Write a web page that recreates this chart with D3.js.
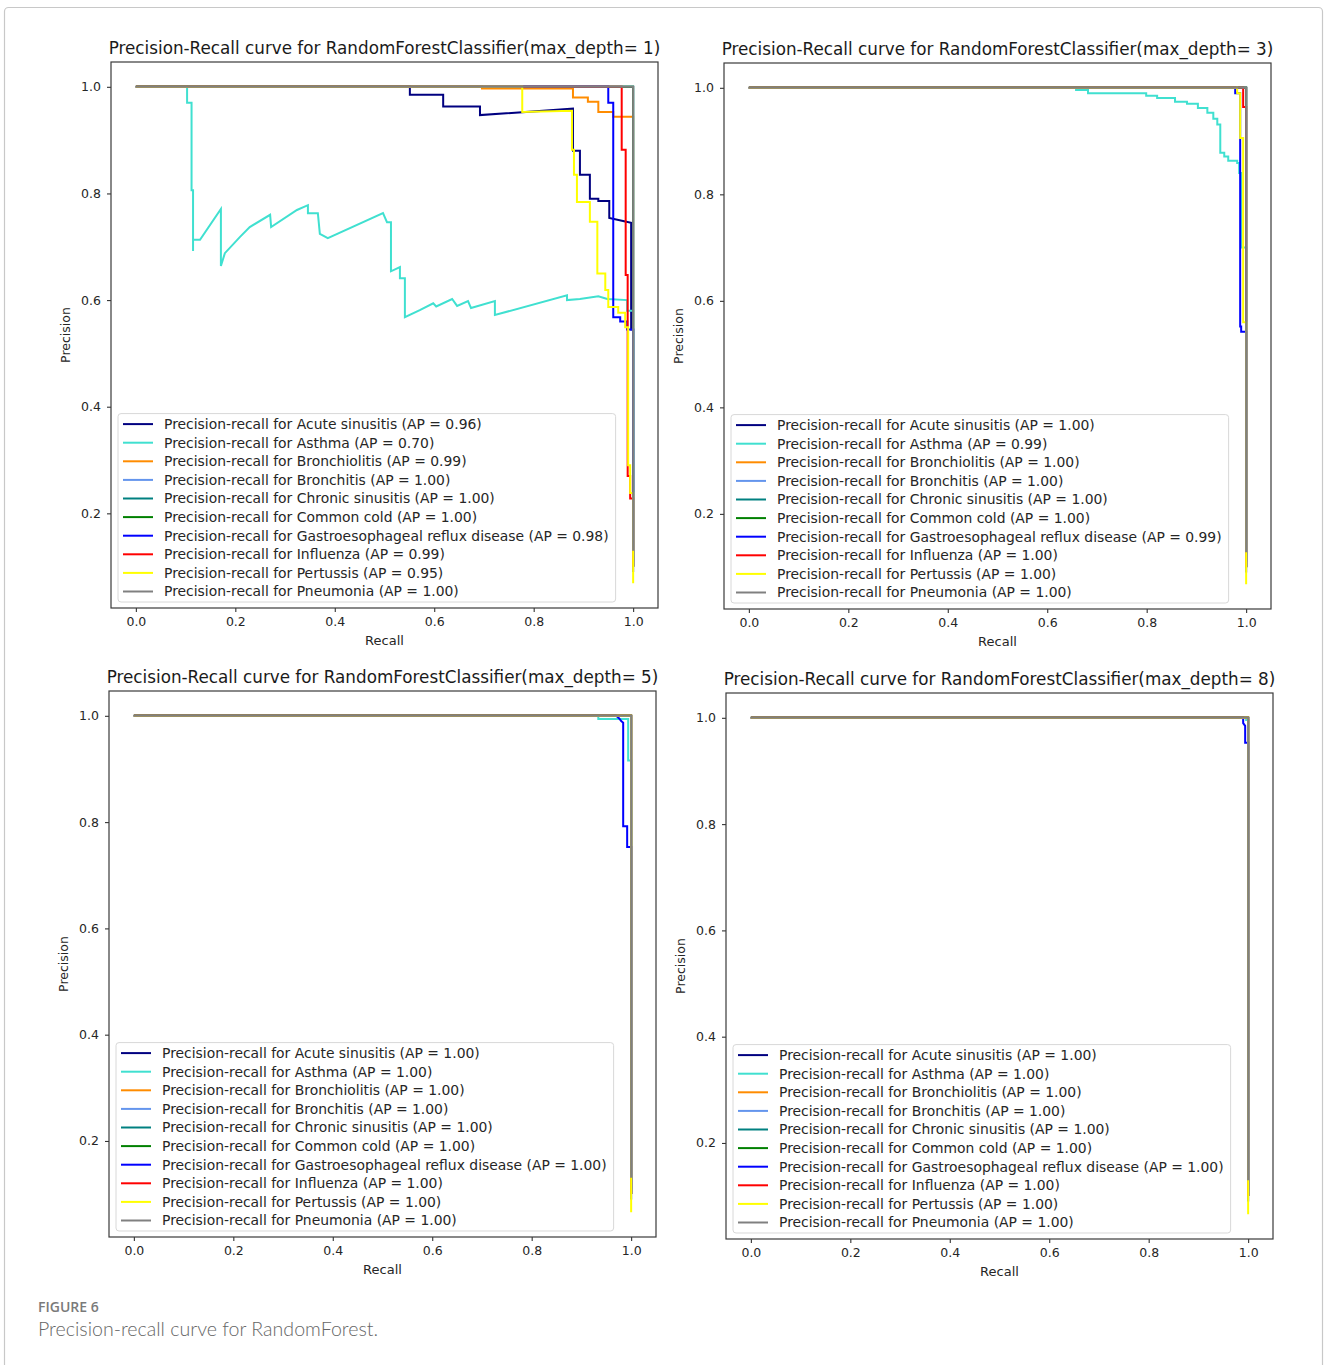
<!DOCTYPE html>
<html>
<head>
<meta charset="utf-8">
<script src="https://cdn.jsdelivr.net/npm/d3@7"></script>
<style>
  body { margin: 0; background: #fff; }
  svg { display: block; }
</style>
</head>
<body>
<div id="chart"></div>
<script>
// classes and line colours, in legend / drawing order
const classes = ["Acute sinusitis", "Asthma", "Bronchiolitis", "Bronchitis", "Chronic sinusitis",
  "Common cold", "Gastroesophageal reflux disease", "Influenza", "Pertussis", "Pneumonia"];
const lineColors = ["navy", "turquoise", "darkorange", "cornflowerblue", "teal",
  "green", "blue", "red", "yellow", "gray"];

const depths = [1, 3, 5, 8];

// average precision per class
const apDepth1 = [0.96, 0.70, 0.99, 1.00, 1.00, 1.00, 0.98, 0.99, 0.95, 1.00];
const apDepth3 = [1.00, 0.99, 1.00, 1.00, 1.00, 1.00, 0.99, 1.00, 1.00, 1.00];
const apDepth5 = [1.00, 1.00, 1.00, 1.00, 1.00, 1.00, 1.00, 1.00, 1.00, 1.00];
const apDepth8 = [1.00, 1.00, 1.00, 1.00, 1.00, 1.00, 1.00, 1.00, 1.00, 1.00];

// [recall, precision] vertices, one list per class
const prDepth1 = [
  [[0,1],[0.551,1],[0.551,0.985],[0.618,0.985],[0.618,0.963],[0.692,0.963],[0.692,0.947],[0.879,0.959],
   [0.879,0.88],[0.893,0.88],[0.893,0.835],[0.913,0.835],[0.913,0.79],[0.93,0.79],[0.93,0.786],[0.952,0.786],
   [0.952,0.754],[0.982,0.748],[0.996,0.745],[0.996,0.545],[1,0.545],[1,0.1]],
  [[0,1],[0.103,1],[0.103,0.97],[0.112,0.97],[0.112,0.806],[0.115,0.806],[0.115,0.692],[0.115,0.713],
   [0.129,0.713],[0.171,0.771],[0.171,0.664],[0.179,0.688],[0.209,0.718],[0.229,0.737],[0.27,0.76],
   [0.272,0.737],[0.324,0.769],[0.346,0.778],[0.346,0.763],[0.366,0.763],[0.37,0.724],[0.386,0.716],
   [0.497,0.763],[0.505,0.746],[0.513,0.746],[0.513,0.654],[0.531,0.662],[0.531,0.641],[0.541,0.641],
   [0.541,0.568],[0.571,0.581],[0.598,0.594],[0.604,0.588],[0.636,0.602],[0.646,0.589],[0.668,0.598],
   [0.674,0.585],[0.722,0.598],[0.722,0.572],[0.867,0.609],[0.867,0.6],[0.893,0.602],[0.93,0.607],
   [0.948,0.602],[0.988,0.6],[0.988,0.58],[1,0.58],[1,0.1]],
  [[0,1],[0.696,1],[0.696,0.997],[0.879,0.997],[0.879,0.98],[0.909,0.98],[0.909,0.972],[0.93,0.972],
   [0.93,0.953],[0.96,0.953],[0.96,0.944],[1,0.944],[1,0.1]],
  [[0,1],[1,1],[1,0.11]],
  [[0,1],[1,1],[1,0.1]],
  [[0,1],[1,1],[1,0.1]],
  [[0,1],[0.95,1],[0.95,0.97],[0.96,0.97],[0.96,0.568],[0.974,0.568],[0.974,0.56],[0.988,0.56],
   [0.988,0.545],[1,0.545],[1,0.09]],
  [[0,1],[0.977,1],[0.977,0.882],[0.985,0.882],[0.985,0.647],[0.989,0.647],[0.989,0.27],[0.994,0.27],
   [0.994,0.228],[1,0.228],[1,0.1]],
  [[0,1],[0.777,1],[0.777,0.953],[0.877,0.955],[0.877,0.882],[0.881,0.882],[0.881,0.835],[0.887,0.835],
   [0.887,0.784],[0.913,0.784],[0.913,0.747],[0.928,0.747],[0.928,0.65],[0.944,0.65],[0.944,0.619],
   [0.95,0.619],[0.95,0.587],[0.97,0.587],[0.97,0.576],[0.984,0.576],[0.984,0.549],[0.99,0.549],
   [0.99,0.29],[0.994,0.29],[0.994,0.238],[1,0.238],[1,0.069]],
  [[0,1],[1,1],[1,0.13]]
];

const prDepth3 = [
  [[0,1],[1,1],[1,0.1]],
  [[0,1],[0.658,1],[0.658,0.996],[0.682,0.996],[0.682,0.99],[0.799,0.99],[0.799,0.985],[0.821,0.985],
   [0.821,0.981],[0.857,0.981],[0.857,0.974],[0.881,0.974],[0.881,0.97],[0.903,0.97],[0.903,0.962],
   [0.922,0.962],[0.922,0.953],[0.934,0.953],[0.934,0.942],[0.942,0.942],[0.942,0.931],[0.948,0.931],
   [0.948,0.878],[0.956,0.878],[0.956,0.871],[0.964,0.871],[0.964,0.863],[0.982,0.863],[0.982,0.859],
   [0.986,0.859],[0.986,0.84],[0.99,0.84],[0.99,0.7],[1,0.7],[1,0.1]],
  [[0,1],[1,1],[1,0.1]],
  [[0,1],[1,1],[1,0.11]],
  [[0,1],[1,1],[1,0.1]],
  [[0,1],[1,1],[1,0.1]],
  [[0,1],[0.978,1],[0.978,0.99],[0.988,0.99],[0.988,0.552],[0.99,0.552],[0.99,0.542],[1,0.542],[1,0.09]],
  [[0,1],[0.994,1],[0.994,0.964],[1,0.964],[1,0.1]],
  [[0,1],[0.982,1],[0.982,0.99],[0.988,0.99],[0.988,0.906],[0.994,0.906],[0.994,0.56],[1,0.56],[1,0.068]],
  [[0,1],[1,1],[1,0.128]]
];

const prDepth5 = [
  [[0,1],[1,1],[1,0.1]],
  [[0,1],[0.934,1],[0.934,0.994],[0.994,0.994],[0.994,0.916],[1,0.916],[1,0.1]],
  [[0,1],[1,1],[1,0.1]],
  [[0,1],[1,1],[1,0.11]],
  [[0,1],[1,1],[1,0.1]],
  [[0,1],[1,1],[1,0.1]],
  [[0,1],[0.97,1],[0.976,0.995],[0.98,0.99],[0.984,0.987],[0.984,0.792],[0.992,0.792],[0.992,0.753],
   [1,0.753],[1,0.09]],
  [[0,1],[1,1],[1,0.1]],
  [[0,1],[1,1],[1,0.066]],
  [[0,1],[1,1],[1,0.131]]
];

const prDepth8 = [
  [[0,1],[1,1],[1,0.1]],
  [[0,1],[0.996,1],[0.996,0.996],[1,0.996],[1,0.1]],
  [[0,1],[1,1],[1,0.1]],
  [[0,1],[1,1],[1,0.11]],
  [[0,1],[1,1],[1,0.1]],
  [[0,1],[1,1],[1,0.1]],
  [[0,1],[0.99,1],[0.99,0.99],[0.994,0.985],[0.994,0.953],[1,0.953],[1,0.09]],
  [[0,1],[1,1],[1,0.1]],
  [[0,1],[1,1],[1,0.066]],
  [[0,1],[1,1],[1,0.13]]
];

const xTicks = [0, 0.2, 0.4, 0.6, 0.8, 1.0];
const yTicks = [0.2, 0.4, 0.6, 0.8, 1.0];

// page setup
const width = 1328;
const height = 1365;
const plotW = 547;
const plotH = 546;
const font = "'DejaVu Sans', sans-serif";

const svg = d3.select("#chart").append("svg")
  .attr("width", width)
  .attr("height", height);

// outer figure frame
svg.append("rect")
  .attr("x", 4.5).attr("y", 7.5)
  .attr("width", 1318).attr("height", 1400)
  .attr("rx", 4)
  .attr("fill", "none")
  .attr("stroke", "#c8c8c8")
  .attr("stroke-width", 1.2);

const panels = [
  { left: 111, top: 62, pr: prDepth1, ap: apDepth1, depth: depths[0] },
  { left: 724, top: 63, pr: prDepth3, ap: apDepth3, depth: depths[1] },
  { left: 109, top: 691, pr: prDepth5, ap: apDepth5, depth: depths[2] },
  { left: 726, top: 693, pr: prDepth8, ap: apDepth8, depth: depths[3] }
];

panels.forEach(function(p) { drawPanel(p); });

function drawPanel(p) {
  const g = svg.append("g").attr("transform", "translate(" + p.left + "," + p.top + ")");

  // matplotlib style 5% margins
  const all = p.pr.flat();
  const yMin = d3.min(all, d => d[1]);
  const yMax = d3.max(all, d => d[1]);
  const ym = (yMax - yMin) * 0.05;

  const x = d3.scaleLinear().domain([-0.05, 1.05]).range([0, plotW]);
  const y = d3.scaleLinear().domain([yMin - ym, yMax + ym]).range([plotH, 0]);

  // curves
  const line = d3.line()
    .x(d => x(d[0]))
    .y(d => y(d[1]));

  const clipId = "clip" + p.depth;
  g.append("clipPath").attr("id", clipId)
    .append("rect").attr("width", plotW).attr("height", plotH);

  g.append("g")
    .attr("clip-path", "url(#" + clipId + ")")
    .selectAll("path")
    .data(p.pr)
    .enter().append("path")
      .attr("d", line)
      .attr("fill", "none")
      .attr("stroke", (d, i) => lineColors[i])
      .attr("stroke-width", 2)
      .attr("stroke-linejoin", "miter");

  // axes
  const xAxis = g.append("g")
    .attr("transform", "translate(0," + plotH + ")")
    .call(d3.axisBottom(x).tickValues(xTicks).tickFormat(d3.format(".1f"))
      .tickSize(4).tickPadding(5).tickSizeOuter(0));
  const yAxis = g.append("g")
    .call(d3.axisLeft(y).tickValues(yTicks).tickFormat(d3.format(".1f"))
      .tickSize(4).tickPadding(6).tickSizeOuter(0));
  [xAxis, yAxis].forEach(function(a) {
    a.select(".domain").remove();
    a.selectAll(".tick line").attr("stroke", "#333").attr("stroke-width", 1.1);
    a.selectAll(".tick text")
      .attr("font-family", font)
      .attr("font-size", "12.5px")
      .attr("fill", "#262626");
  });

  // frame
  g.append("rect")
    .attr("width", plotW).attr("height", plotH)
    .attr("fill", "none")
    .attr("stroke", "#3a3a3a")
    .attr("stroke-width", 1.2);

  // title and axis labels
  g.append("text")
    .attr("x", plotW / 2).attr("y", -8)
    .attr("text-anchor", "middle")
    .attr("font-family", font)
    .attr("font-size", "16.8px")
    .attr("fill", "#1a1a1a")
    .text("Precision-Recall curve for RandomForestClassifier(max_depth= " + p.depth + ")");

  g.append("text")
    .attr("x", plotW / 2).attr("y", plotH + 37)
    .attr("text-anchor", "middle")
    .attr("font-family", font)
    .attr("font-size", "13px")
    .attr("fill", "#262626")
    .text("Recall");

  g.append("text")
    .attr("transform", "translate(-45," + (plotH / 2) + ") rotate(-90)")
    .attr("text-anchor", "middle")
    .attr("dy", "0.35em")
    .attr("font-family", font)
    .attr("font-size", "12.5px")
    .attr("fill", "#262626")
    .text("Precision");

  // legend, lower left
  const rowH = 18.6;
  const legH = 10 + (classes.length - 1) * rowH + 11;
  const leg = g.append("g")
    .attr("transform", "translate(7," + (plotH - 6 - legH) + ")");
  const legBox = leg.append("rect")
    .attr("height", legH)
    .attr("rx", 3)
    .attr("fill", "#fff")
    .attr("fill-opacity", 0.85)
    .attr("stroke", "#d8d8d8")
    .attr("stroke-width", 1);

  const rows = leg.selectAll("g.row")
    .data(classes)
    .enter().append("g")
      .attr("class", "row")
      .attr("transform", (d, i) => "translate(0," + (10.5 + i * rowH) + ")");
  rows.append("line")
    .attr("x1", 5).attr("x2", 35)
    .attr("stroke", (d, i) => lineColors[i])
    .attr("stroke-width", 2);
  rows.append("text")
    .attr("x", 46)
    .attr("dy", "0.35em")
    .attr("font-family", font)
    .attr("font-size", "13.9px")
    .attr("fill", "#262626")
    .text((d, i) => "Precision-recall for " + d + " (AP = " + p.ap[i].toFixed(2) + ")");

  let maxW = 0;
  rows.selectAll("text").each(function() { maxW = Math.max(maxW, this.getComputedTextLength()); });
  legBox.attr("width", 46 + maxW + 7);
}

// caption
svg.append("text")
  .attr("x", 38).attr("y", 1312)
  .attr("font-family", "'Open Sans', sans-serif")
  .attr("font-size", "14px")
  .attr("font-weight", 600)
  .attr("fill", "#7a7a7a")
  .text("FIGURE 6");

svg.append("text")
  .attr("x", 38).attr("y", 1336)
  .attr("font-family", "Lato, 'Open Sans', sans-serif")
  .attr("font-size", "19.6px")
  .attr("font-weight", 300)
  .attr("fill", "#666")
  .text("Precision-recall curve for RandomForest.");
</script>
</body>
</html>
